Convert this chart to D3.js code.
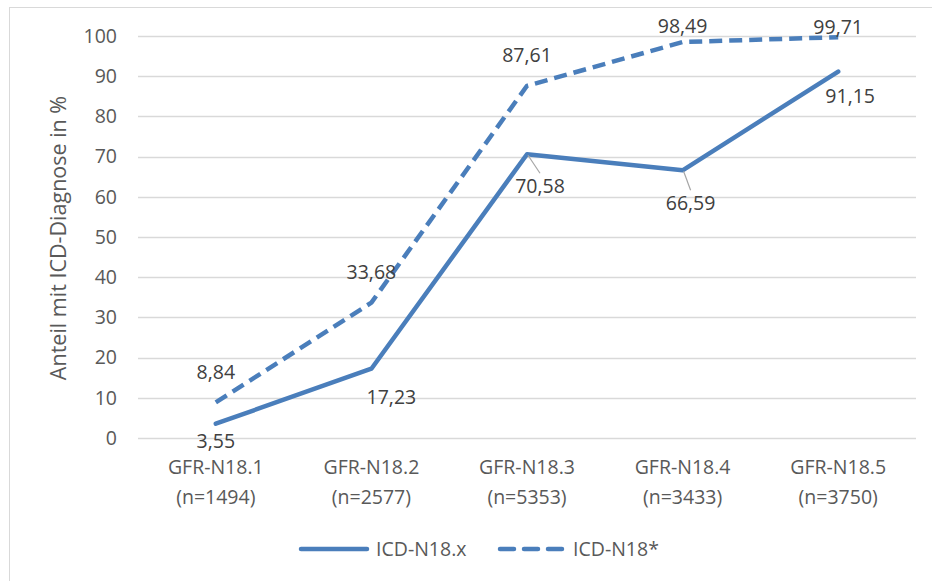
<!DOCTYPE html>
<html>
<head>
<meta charset="utf-8">
<script src="https://cdn.jsdelivr.net/npm/d3@7"></script>
<style>
    body { margin: 0; background: #fff; }
    text { font-family: "Open Sans", Lato, sans-serif; }
</style>
</head>
<body>
<div id="chart"></div>
<script>
// data
var kategorien = ["GFR-N18.1", "GFR-N18.2", "GFR-N18.3", "GFR-N18.4", "GFR-N18.5"];
var fallzahlen = ["(n=1494)", "(n=2577)", "(n=5353)", "(n=3433)", "(n=3750)"];
var icdN18x = [3.55, 17.23, 70.58, 66.59, 91.15];
var icdN18stern = [8.84, 33.68, 87.61, 98.49, 99.71];
var yTicks = [0, 10, 20, 30, 40, 50, 60, 70, 80, 90, 100];

// label offsets relative to the point (layout only)
var offsetN18x = [[0, 17], [20, 28], [13, 32], [8, 33], [12, 25]];
var offsetStern = [[0, -30], [0, -30], [0, -31], [0, -16], [0, -10]];

var width = 932, height = 581;
var farbe = "#4a7ebb";
var schrift = "19.5px";

var svg = d3.select("#chart").append("svg")
    .attr("width", width)
    .attr("height", height);

// chart border
svg.append("rect")
    .attr("x", 9.5).attr("y", 7.5)
    .attr("width", 940).attr("height", 600)
    .attr("fill", "none")
    .attr("stroke", "#d9d9d9");

var x = d3.scaleBand()
    .domain(kategorien)
    .range([138, 916]);

var y = d3.scaleLinear()
    .domain([0, 100])
    .range([438, 36]);

function cx(i) { return x(kategorien[i]) + x.bandwidth() / 2; }

// gridlines
svg.append("g").selectAll("line")
    .data(yTicks)
    .enter().append("line")
    .attr("x1", 138).attr("x2", 916)
    .attr("y1", function (d) { return Math.round(y(d)) + 0.5; })
    .attr("y2", function (d) { return Math.round(y(d)) + 0.5; })
    .attr("stroke", "#d9d9d9")
    .attr("stroke-width", 1.3);

// y axis labels
var yAxis = svg.append("g")
    .attr("transform", "translate(127,0)")
    .call(d3.axisLeft(y).tickValues(yTicks).tickSize(0).tickPadding(10));
yAxis.select(".domain").remove();
yAxis.selectAll("text")
    .style("font-size", schrift)
    .style("font-family", "'Open Sans', Lato, sans-serif")
    .attr("fill", "#595959");

svg.append("text")
    .attr("transform", "translate(58,238) rotate(-90)")
    .attr("text-anchor", "middle")
    .attr("dy", "0.35em")
    .style("font-size", "21.5px")
    .attr("fill", "#595959")
    .text("Anteil mit ICD-Diagnose in %");

// x axis labels (two lines)
var xl = svg.append("g").selectAll("text")
    .data(kategorien)
    .enter().append("text")
    .attr("text-anchor", "middle")
    .style("font-size", schrift)
    .attr("fill", "#595959");
xl.append("tspan")
    .attr("x", function (d, i) { return cx(i); })
    .attr("y", 474)
    .text(function (d) { return d; });
xl.append("tspan")
    .attr("x", function (d, i) { return cx(i); })
    .attr("y", 504)
    .text(function (d, i) { return fallzahlen[i]; });

// lines
var linie = d3.line()
    .x(function (d, i) { return cx(i); })
    .y(function (d) { return y(d); });

svg.append("path")
    .datum(icdN18stern)
    .attr("d", linie)
    .attr("fill", "none")
    .attr("stroke", farbe)
    .attr("stroke-width", 4.5)
    .attr("stroke-linejoin", "round")
    .attr("stroke-dasharray", "13,7");

svg.append("path")
    .datum(icdN18x)
    .attr("d", linie)
    .attr("fill", "none")
    .attr("stroke", farbe)
    .attr("stroke-width", 4.5)
    .attr("stroke-linecap", "round")
    .attr("stroke-linejoin", "round");

// leader lines for the two shifted labels
[2, 3].forEach(function (i) {
    var px = cx(i), py = y(icdN18x[i]);
    var lx = px + offsetN18x[i][0], ly = py + offsetN18x[i][1] - 13;
    svg.append("line")
        .attr("x1", px + 1).attr("y1", py + 1)
        .attr("x2", lx).attr("y2", ly)
        .attr("stroke", "#a6a6a6")
        .attr("stroke-width", 1.2);
});

function fmt(v) { return v.toFixed(2).replace(".", ","); }

function labels(werte, offs) {
    svg.append("g").selectAll("text")
        .data(werte)
        .enter().append("text")
        .attr("x", function (d, i) { return cx(i) + offs[i][0]; })
        .attr("y", function (d, i) { return y(d) + offs[i][1]; })
        .attr("dy", "0.35em")
        .attr("text-anchor", "middle")
        .style("font-size", schrift)
        .attr("fill", "#404040")
        .text(fmt);
}
labels(icdN18x, offsetN18x);
labels(icdN18stern, offsetStern);

// legend
var leg = svg.append("g");
leg.append("line")
    .attr("x1", 301).attr("x2", 367).attr("y1", 549).attr("y2", 549)
    .attr("stroke", farbe).attr("stroke-width", 4.5)
    .attr("stroke-linecap", "round");
leg.append("text")
    .attr("x", 376).attr("y", 549).attr("dy", "0.35em")
    .style("font-size", schrift).attr("fill", "#595959")
    .text("ICD-N18.x");
leg.append("line")
    .attr("x1", 500).attr("x2", 562).attr("y1", 549).attr("y2", 549)
    .attr("stroke", farbe).attr("stroke-width", 4.5)
    .attr("stroke-linecap", "round")
    .attr("stroke-dasharray", "14,10");
leg.append("text")
    .attr("x", 573).attr("y", 549).attr("dy", "0.35em")
    .style("font-size", schrift).attr("fill", "#595959")
    .text("ICD-N18*");
</script>
</body>
</html>
